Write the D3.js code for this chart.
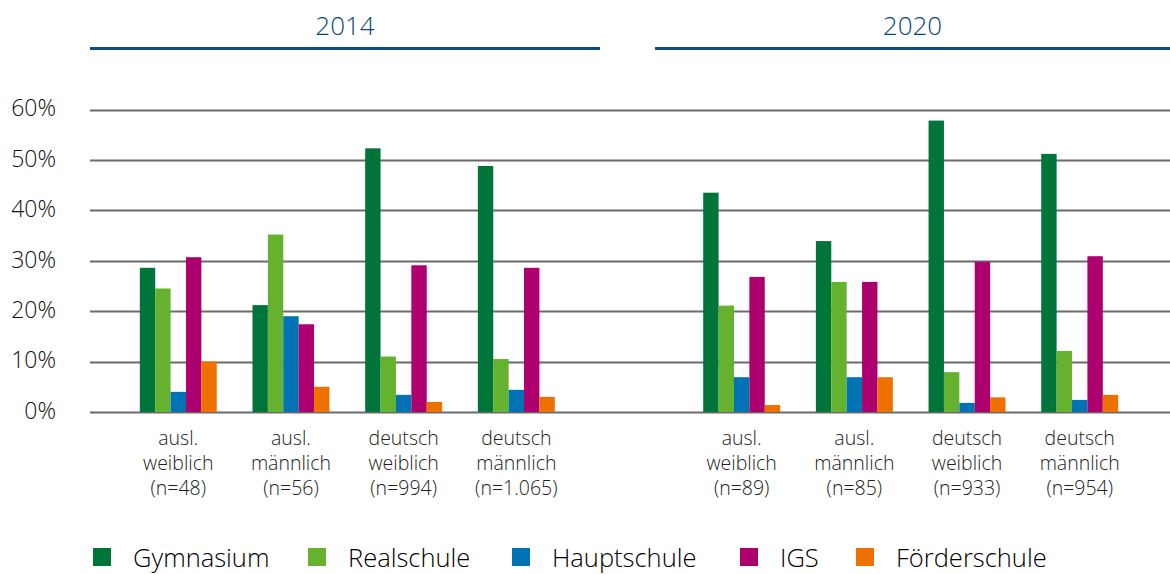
<!DOCTYPE html>
<html>
<meta charset="UTF-8" />
<script src="https://cdn.jsdelivr.net/npm/d3@7/dist/d3.min.js"></script>
<style>
*{margin:0; padding:0;}
body{background:#fff; width:1170px; height:574px; overflow:hidden;}
text{font-family:"Open Sans",sans-serif; font-weight:350;}
</style>
<body>
<div id="chart"></div>
<script>
// data
var years = ["2014", "2020"];
var groups = ["ausl. weiblich", "ausl. männlich", "deutsch weiblich", "deutsch männlich"];
var counts = {
	"2014": ["48", "56", "994", "1.065"],
	"2020": ["89", "85", "933", "954"]
};
var schools = ["Gymnasium", "Realschule", "Hauptschule", "IGS", "Förderschule"];
var colors = ["#00753a", "#65b22e", "#0073b4", "#ad006e", "#ee7100"];
var yTicks = [0, 10, 20, 30, 40, 50, 60];

// percent per school, one row per group
var values2014 = [
	[28.6, 24.5, 4.0, 30.7, 10.0],
	[21.2, 35.2, 19.0, 17.4, 5.0],
	[52.3, 11.0, 3.4, 29.1, 2.0],
	[48.8, 10.5, 4.4, 28.6, 3.0]
];
var values2020 = [
	[43.5, 21.1, 6.9, 26.8, 1.4],
	[33.9, 25.8, 6.9, 25.8, 6.9],
	[57.8, 7.9, 1.8, 29.8, 2.9],
	[51.2, 12.1, 2.4, 30.9, 3.4]
];

var width = 1170, height = 574;
var svg = d3.select("#chart").append("svg")
	.attr("width", width)
	.attr("height", height);

// slots: 4 groups 2014, an empty gap, 4 groups 2020
var slots = [];
groups.forEach(function(g, i){ slots.push("2014|" + i); });
slots.push("gap");
groups.forEach(function(g, i){ slots.push("2020|" + i); });

var x = d3.scaleBand().domain(slots).range([122, 1136]).paddingInner(0.317).paddingOuter(0.158);
var xs = d3.scaleBand().domain(schools).range([0, x.bandwidth()]);
var y = d3.scaleLinear().domain([0, 60]).range([412, 109.5]);

// gridlines
svg.append("g").selectAll("line").data(yTicks).enter().append("line")
	.attr("x1", 90).attr("x2", 1170)
	.attr("y1", function(d){ return Math.round(y(d)) + 0.5; })
	.attr("y2", function(d){ return Math.round(y(d)) + 0.5; })
	.style("stroke", "#6b6b6b")
	.style("stroke-width", 2.2);

svg.append("g").selectAll("text").data(yTicks).enter().append("text")
	.attr("x", 56)
	.attr("y", function(d){ return y(d); })
	.attr("dy", "0.3em")
	.attr("text-anchor", "end")
	.style("font-size", "23px")
	.style("fill", "#111")
	.text(function(d){ return d + "%"; });

// year headers
var headerX = {"2014": [90, 600], "2020": [655, 1170]};
years.forEach(function(yr){
	var r = headerX[yr];
	svg.append("line")
		.attr("x1", r[0]).attr("x2", r[1])
		.attr("y1", 48.5).attr("y2", 48.5)
		.style("stroke", "#0d4d7f")
		.style("stroke-width", 3);
	svg.append("text")
		.attr("x", (r[0] + r[1]) / 2)
		.attr("y", 35)
		.attr("text-anchor", "middle")
		.style("font-size", "26px")
		.style("fill", "#0a467a")
		.text(yr);
});

// bars
var allValues = {"2014": values2014, "2020": values2020};
years.forEach(function(yr){
	allValues[yr].forEach(function(row, gi){
		var g = svg.append("g")
			.attr("transform", "translate(" + x(yr + "|" + gi) + ",0)");
		g.selectAll("rect").data(row).enter().append("rect")
			.attr("x", function(d, i){ return xs(schools[i]); })
			.attr("width", xs.bandwidth())
			.attr("y", function(d){ return y(d); })
			.attr("height", function(d){ return y(0) - y(d); })
			.style("fill", function(d, i){ return colors[i]; });

		// category label
		var words = groups[gi].split(" ");
		var lines = [words[0], words[1], "(n=" + counts[yr][gi] + ")"];
		var t = svg.append("text")
			.attr("text-anchor", "middle")
			.style("font-size", "19.5px")
			.style("fill", "#222");
		lines.forEach(function(l, li){
			t.append("tspan")
				.attr("x", x(yr + "|" + gi) + x.bandwidth() / 2)
				.attr("y", 445 + li * 25)
				.text(l);
		});
	});
});

// legend
var legendX = [93, 308, 512, 740, 856];
var lg = svg.append("g").selectAll("g").data(schools).enter().append("g")
	.attr("transform", function(d, i){ return "translate(" + legendX[i] + ",548)"; });
lg.append("rect")
	.attr("width", 18).attr("height", 18)
	.style("fill", function(d, i){ return colors[i]; });
lg.append("text")
	.attr("x", 40)
	.attr("y", 19)
	.style("font-size", "25.5px")
	.style("fill", "#000")
	.text(function(d){ return d; });
</script>
</body>
</html>
